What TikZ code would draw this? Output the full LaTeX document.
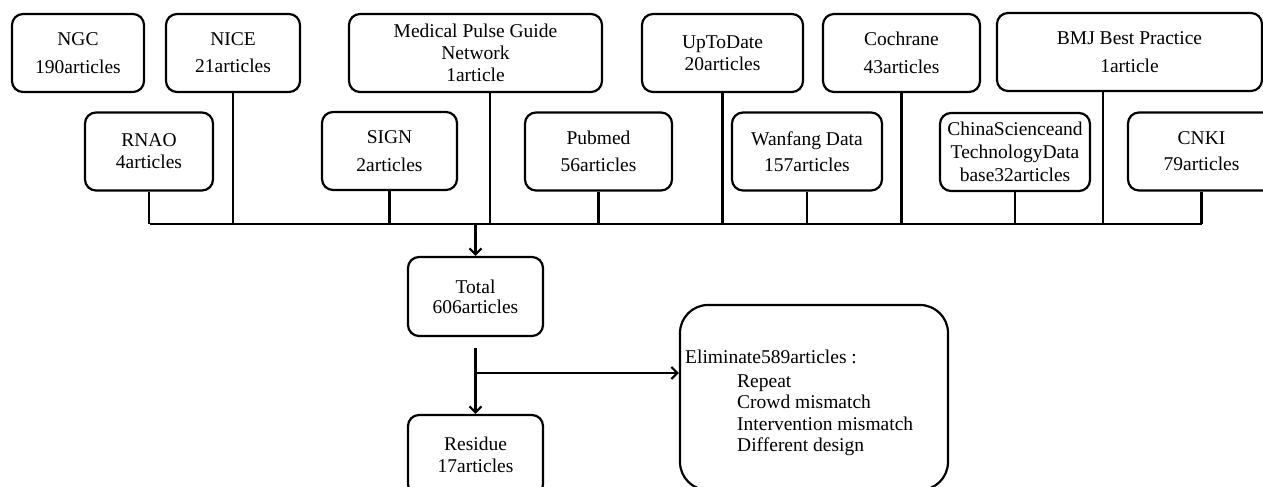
\documentclass[tikz,border=0pt]{standalone}
\usepackage{fontspec}
\setmainfont{Liberation Serif}
\usetikzlibrary{arrows.meta,calc}
\begin{document}
\begin{tikzpicture}[x=1pt,y=-1pt,
  box/.style={draw, line width=2.2pt, rounded corners=11pt, inner sep=0pt,
    align=center, font=\fontsize{19.5}{22}\selectfont, minimum height=78pt},
  conn/.style={line width=2.2pt},
  arr/.style={line width=2.2pt, -{Straight Barb[length=6pt,width=12pt]}}]
\useasboundingbox (0,0) rectangle (1263,487);
% top row
\node[box, minimum width=132pt] (ngc)  at (78,53)    {NGC\\[6pt]190articles};
\node[box, minimum width=134pt] (nice) at (233,53)   {NICE\\[5pt]21articles};
\node[box, minimum width=253pt] (med)  at (475.5,53) {Medical Pulse Guide\\Network\\1article};
\node[box, minimum width=161pt] (upto) at (722.5,53) {UpToDate\\20articles};
\node[box, minimum width=157pt] (coch) at (901.5,53) {Cochrane\\[6pt]43articles};
\node[box, minimum width=265pt] (bmj)  at (1129.5,52) {BMJ Best Practice\\[6pt]1article};
% second row
\node[box, minimum width=128pt] (rnao)  at (149,151.5)   {RNAO\\4articles};
\node[box, minimum width=135pt] (sign)  at (389.5,151)   {SIGN\\[6pt]2articles};
\node[box, minimum width=147pt] (pub)   at (598.5,151.5) {Pubmed\\[5pt]56articles};
\node[box, minimum width=150pt] (wan)   at (807,151.5)   {Wanfang Data\\[4pt]157articles};
\node[box, minimum width=150pt] (china) at (1015,152)    {ChinaScienceand\\[1pt]TechnologyData\\[1pt]base32articles};
\node[box, minimum width=147pt] (cnki)  at (1201.5,151.5) {CNKI\\[4pt]79articles};
% lower boxes
\node[box, minimum width=135pt, minimum height=79pt] (total) at (475.5,296.5) {Total\\[-2pt]606articles};
\node[box, minimum width=135pt, minimum height=80pt] (res)   at (475.5,455)   {Residue\\17articles};
\node[draw, line width=2.2pt, rounded corners=28pt, minimum width=268pt, minimum height=185pt] (elim) at (814,397.5) {};
\node[anchor=north west, align=left, inner sep=0pt, font=\fontsize{19.5}{21.5}\selectfont] (elimtxt) at (685,350)
  {Eliminate589articles :\\[2pt]
   \hspace*{52pt}Repeat\\
   \hspace*{52pt}Crowd mismatch\\
   \hspace*{52pt}Intervention mismatch\\
   \hspace*{52pt}Different design};
% bus
\coordinate (busL) at (150,224);
\coordinate (busR) at (1202,224);
\coordinate (busM) at (475.5,224);
\coordinate (split) at (475.5,373);
\draw[conn] (busL) -- (busR);
\draw[conn] (rnao.south) -- (rnao.south |- busL);
\draw[conn] (nice.south) -- (nice.south |- busL);
\draw[conn] (sign.south) -- (sign.south |- busL);
\draw[conn] ([xshift=14.5pt]med.south) -- ([xshift=14.5pt]med.south |- busL);
\draw[conn] (pub.south) -- (pub.south |- busL);
\draw[conn] (upto.south) -- (upto.south |- busL);
\draw[conn] (wan.south) -- (wan.south |- busL);
\draw[conn] (coch.south) -- (coch.south |- busL);
\draw[conn] (china.south) -- (china.south |- busL);
\draw[conn] ([xshift=-26.5pt]bmj.south) -- ([xshift=-26.5pt]bmj.south |- busL);
\draw[conn] (cnki.south) -- (cnki.south |- busL);
\draw[arr] (busM) -- (total.north);
\draw[arr] ($(total.south)+(0,11)$) -- (res.north);
\draw[arr] (split) -- (elim.west |- split);
\end{tikzpicture}
\end{document}
